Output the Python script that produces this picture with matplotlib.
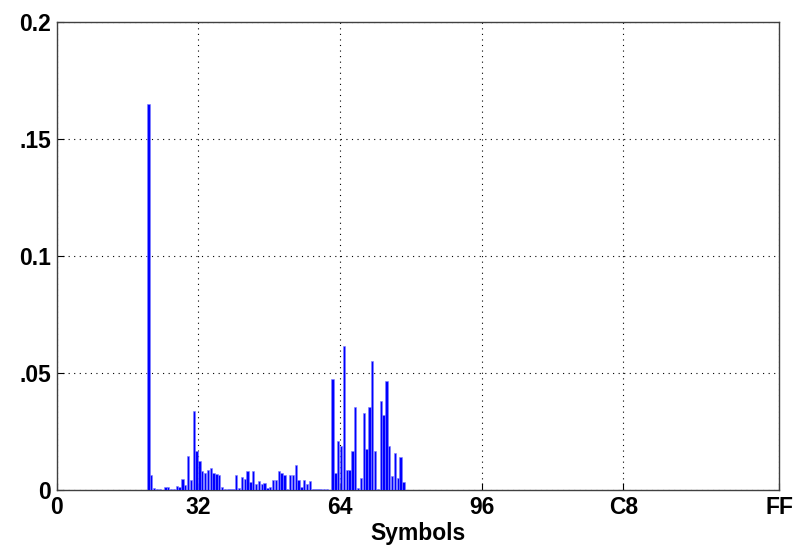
import numpy as np
import matplotlib
matplotlib.use("Agg")
import matplotlib.pyplot as plt

# symboles (codes ASCII) et frequences
symboles = list(range(32, 123))
freq = [0.165, 0.0063, 0.0009, 0.0004, 0.0004, 0.0, 0.0013, 0.0013,   # 32-39
        0.0004, 0.0004, 0.0018, 0.0015, 0.0048, 0.0023, 0.0148, 0.0044,  # 40-47
        0.0338, 0.0169, 0.0125, 0.0080, 0.0074, 0.0087, 0.0093, 0.0074,  # 48-55
        0.0071, 0.0066, 0.0013, 0.0004, 0.0004, 0.0004, 0.0004, 0.0063,  # 56-63
        0.0009, 0.0058, 0.0047, 0.0084, 0.0034, 0.0084, 0.0027, 0.0038,  # 64-71
        0.0027, 0.0031, 0.0009, 0.0014, 0.0044, 0.0044, 0.0084, 0.0074,  # 72-79
        0.0063, 0.0004, 0.0063, 0.0063, 0.0107, 0.0044, 0.0013, 0.0044,  # 80-87
        0.0026, 0.0038, 0.0004, 0.0004, 0.0004, 0.0004, 0.0004, 0.0004,  # 88-95
        0.0, 0.0473, 0.0075, 0.0209, 0.0190, 0.0615, 0.0085, 0.0085,     # 96-103
        0.0167, 0.0355, 0.0010, 0.0054, 0.0329, 0.0175, 0.0355, 0.0551,  # 104-111
        0.0167, 0.0006, 0.0383, 0.0320, 0.0467, 0.0190, 0.0060, 0.0157,  # 112-119
        0.0054, 0.0141, 0.0036]                                          # 120-122

xticks = [0, 50, 100, 150, 200, 255]
xlabels = ['0', '32', '64', '96', 'C8', 'FF']   # en hexa
yticks = [0, 0.05, 0.1, 0.15, 0.2]
ylabels = ['0', '.05', '0.1', '.15', '0.2']

plt.rcParams['font.family'] = ['Liberation Sans', 'DejaVu Sans']

fig = plt.figure(figsize=(8, 5.52), dpi=100)
ax = fig.add_axes([0.071, 0.112, 0.903, 0.848])

ax.bar(np.array(symboles) + 0.35, freq, width=0.85, color='#0000ff',
       edgecolor='#8080ff', linewidth=0.4, zorder=3)

ax.set_xlim(0, 255)
ax.set_ylim(0, 0.2)
ax.set_xticks(xticks)
ax.set_xticklabels(xlabels)
ax.set_yticks(yticks)
ax.set_yticklabels(ylabels)
ax.tick_params(direction='in', length=5, width=0.8, labelsize=16.5, pad=4)
for lab in ax.get_xticklabels() + ax.get_yticklabels():
    lab.set_fontweight('bold')

ax.grid(True, color='black', linestyle=(0, (1, 4)), linewidth=0.8, zorder=0)
for s in ax.spines.values():
    s.set_color('#404040')
    s.set_linewidth(1.0)

ax.set_xlabel('Symbols', fontsize=16.5, fontweight='bold', labelpad=2)

fig.savefig('out.png', dpi=100)
